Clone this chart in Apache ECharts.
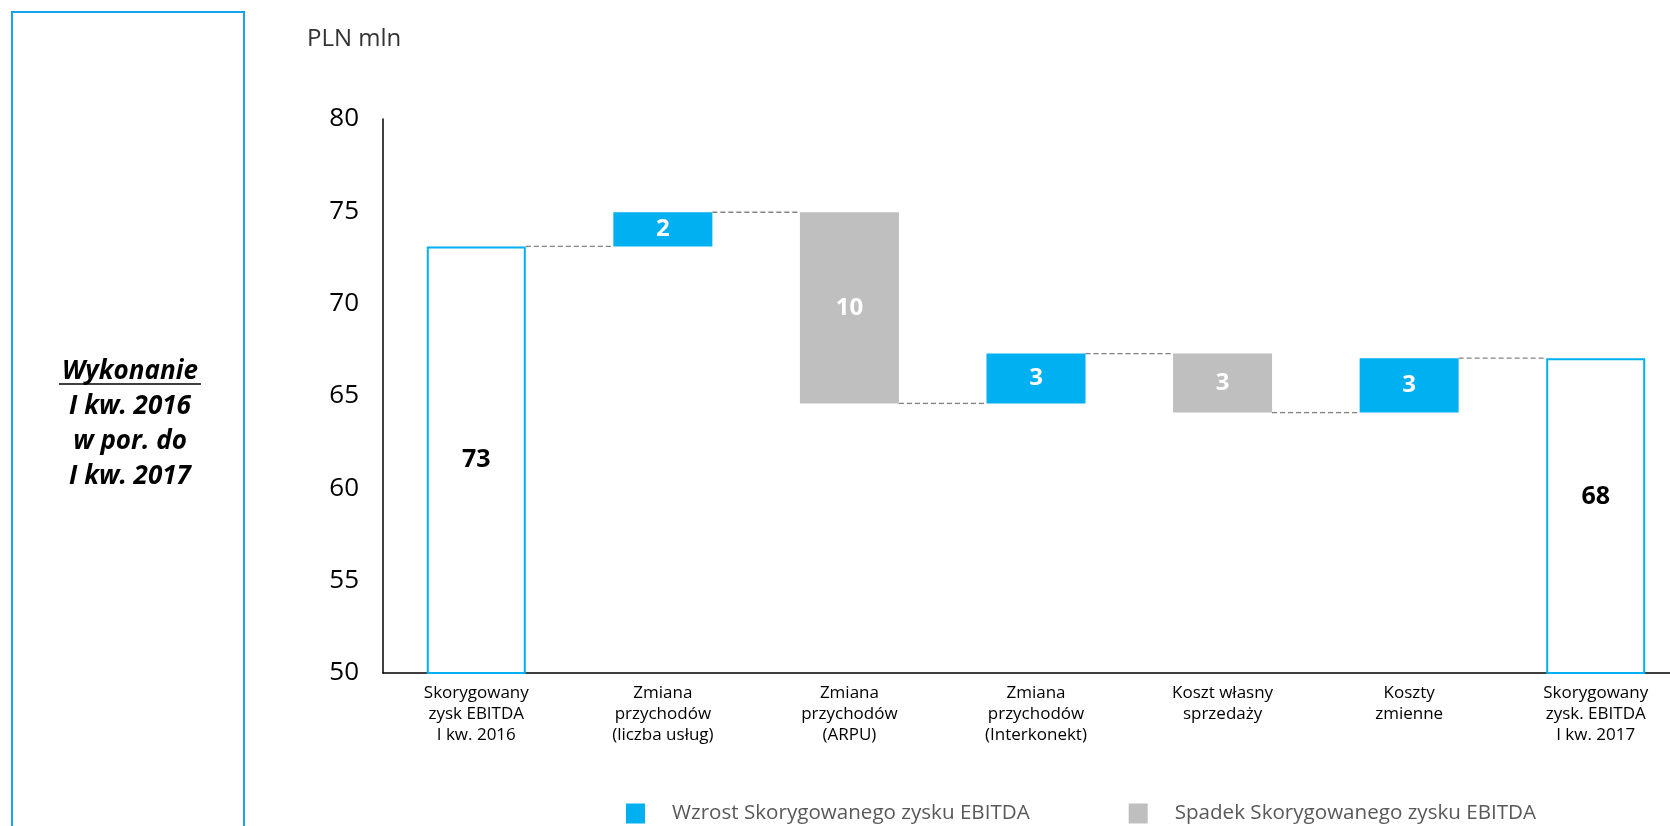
<!DOCTYPE html>
<html>
<head>
<meta charset="utf-8">
<script src="https://cdn.jsdelivr.net/npm/echarts@6/dist/echarts.min.js"></script>
<style>
html,body{margin:0;padding:0;background:#fff;}
#chart{width:1670px;height:826px;}
</style>
</head>
<body>
<div id="chart"></div>
<script>
// ---- data ----
const categories = [
  'Skorygowany\nzysk EBITDA\nI kw. 2016',
  'Zmiana\nprzychodów\n(liczba usług)',
  'Zmiana\nprzychodów\n(ARPU)',
  'Zmiana\nprzychodów\n(Interkonekt)',
  'Koszt własny\nsprzedaży',
  'Koszty\nzmienne',
  'Skorygowany\nzysk. EBITDA\nI kw. 2017'
];
const startTotal = 73.1;
const changes = [null, 1.85, -10.35, 2.7, -3.2, 2.95, null];
const endTotal = 67.05;
const valueLabels = ['73', '2', '10', '3', '3', '3', '68'];
const yTicks = [50, 55, 60, 65, 70, 75, 80];
const legendNames = ['Wzrost Skorygowanego zysku EBITDA', 'Spadek Skorygowanego zysku EBITDA'];
const sideText = ['Wykonanie', 'I kw. 2016', 'w por. do', 'I kw. 2017'];
const unitLabel = 'PLN mln';

// ---- derived series ----
const BLUE = '#00B0F0', GREY = '#BFBFBF';
const baseData = [], riseData = [], fallData = [], totalData = [], connectors = [];
let level = startTotal;
categories.forEach((c, i) => {
  if (i === 0) {
    baseData.push('-'); riseData.push('-'); fallData.push('-');
    totalData.push(startTotal);
  } else if (i === categories.length - 1) {
    baseData.push('-'); riseData.push('-'); fallData.push('-');
    totalData.push({value: endTotal, label: {offset: [0, -19]}});
  } else {
    const d = changes[i];
    if (d >= 0) { baseData.push(level); riseData.push(d); fallData.push('-'); }
    else { baseData.push(level + d); riseData.push('-'); fallData.push(-d); }
    totalData.push('-');
    level += d;
  }
});
let lv = startTotal;
for (let i = 0; i < categories.length - 1; i++) {
  if (i > 0) lv += changes[i];
  connectors.push([i, lv]);
}

const BAR_W = 99;
const FONT = '"Open Sans", "Noto Sans", sans-serif';

const chart = echarts.init(document.getElementById('chart'), null, {renderer: 'canvas'});
chart.setOption({
  animation: false,
  textStyle: {fontFamily: FONT},
  grid: {left: 383, top: 119, width: 1306, bottom: 153, containLabel: false, outerBoundsMode: 'none'},
  xAxis: {
    type: 'category', data: categories,
    axisLine: {lineStyle: {color: '#000', width: 1.5}},
    axisTick: {show: false},
    axisLabel: {color: '#000', fontSize: 17, lineHeight: 21, margin: 10, interval: 0, fontFamily: FONT}
  },
  yAxis: {
    type: 'value', min: yTicks[0], max: yTicks[yTicks.length - 1], interval: 5,
    axisLine: {show: true, lineStyle: {color: '#000', width: 1.5}},
    axisTick: {show: false},
    splitLine: {show: false},
    axisLabel: {color: '#000', fontSize: 26, margin: 24, fontFamily: FONT}
  },
  legend: {
    data: legendNames, left: 621, top: 798, icon: 'rect', itemWidth: 19, itemHeight: 20,
    itemGap: 99, selectedMode: false,
    textStyle: {color: '#595959', fontSize: 20.6, padding: [0, 0, 0, 22], fontFamily: FONT}
  },
  graphic: [
    {type: 'rect', shape: {x: 12, y: 12, width: 232, height: 900},
      style: {fill: 'none', stroke: '#19A2F0', lineWidth: 2}},
    {type: 'text', x: 307, y: 39,
      style: {text: unitLabel, x: 0, y: 0, textVerticalAlign: 'middle', font: '24px ' + FONT, fill: '#333'}},
    ...sideText.map((t, k) => ({
      type: 'text', x: 130, y: 372 + k * 35,
      style: {text: t, x: 0, y: 0, textAlign: 'center', textVerticalAlign: 'middle',
        font: 'italic bold 26px ' + FONT, fill: '#000'}
    })),
    {type: 'line', shape: {x1: 59, y1: 384, x2: 201, y2: 384}, style: {stroke: '#000', lineWidth: 1.6}}
  ],
  series: [
    {name: 'base', type: 'bar', stack: 'w', barWidth: BAR_W, data: baseData,
      itemStyle: {color: 'transparent'}, emphasis: {disabled: true}, silent: true},
    {name: legendNames[0], type: 'bar', stack: 'w', barWidth: BAR_W, data: riseData,
      itemStyle: {color: BLUE},
      label: {show: true, position: 'inside', color: '#fff', fontWeight: 'bold', fontSize: 24,
        formatter: p => valueLabels[p.dataIndex]}},
    {name: legendNames[1], type: 'bar', stack: 'w', barWidth: BAR_W, data: fallData,
      itemStyle: {color: GREY},
      label: {show: true, position: 'inside', color: '#fff', fontWeight: 'bold', fontSize: 24,
        formatter: p => valueLabels[p.dataIndex]}},
    {name: 'total', type: 'bar', stack: 'w', barWidth: BAR_W, data: totalData,
      itemStyle: {color: '#fff', borderColor: BLUE, borderWidth: 2},
      label: {show: true, position: 'inside', color: '#000', fontWeight: 'bold', fontSize: 25,
        formatter: p => valueLabels[p.dataIndex]}},
    {name: 'conn', type: 'custom', coordinateSystem: 'cartesian2d', silent: true,
      encode: {x: 0, y: 1}, data: connectors, z: 5,
      renderItem: (params, api) => {
        const i = api.value(0), v = api.value(1);
        const p1 = api.coord([i, v]), p2 = api.coord([i + 1, v]);
        return {type: 'line',
          shape: {x1: p1[0] + BAR_W / 2, y1: p1[1], x2: p2[0] - BAR_W / 2, y2: p1[1]},
          style: {stroke: '#808080', lineWidth: 1.3, lineDash: [5, 3]}};
      }}
  ]
});
</script>
</body>
</html>
